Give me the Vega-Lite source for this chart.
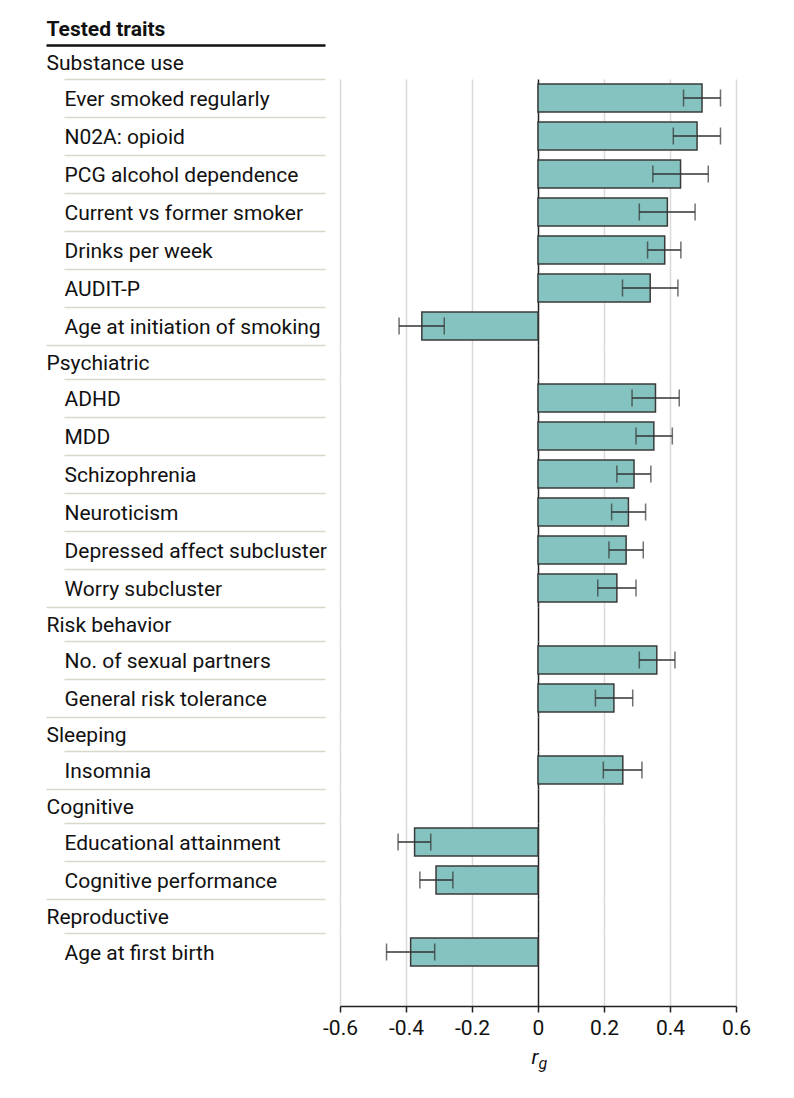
{
  "$schema": "https://vega.github.io/schema/vega-lite/v6.json",
  "padding": {"left": 44, "top": 11, "right": 5, "bottom": 5},
  "spacing": 0,
  "bounds": "flush",
  "resolve": {"scale": {"x": "independent", "y": "independent"}},
  "data": {"values": [
    {"trait": "Tested traits", "group": "Title", "kind": "title"},
    {"trait": "Substance use", "group": "Substance use", "kind": "group"},
    {"trait": "Ever smoked regularly", "group": "Substance use", "kind": "trait", "rg": 0.497, "lo": 0.441, "hi": 0.553},
    {"trait": "N02A: opioid", "group": "Substance use", "kind": "trait", "rg": 0.482, "lo": 0.410, "hi": 0.553},
    {"trait": "PCG alcohol dependence", "group": "Substance use", "kind": "trait", "rg": 0.432, "lo": 0.348, "hi": 0.516},
    {"trait": "Current vs former smoker", "group": "Substance use", "kind": "trait", "rg": 0.392, "lo": 0.307, "hi": 0.476},
    {"trait": "Drinks per week", "group": "Substance use", "kind": "trait", "rg": 0.384, "lo": 0.332, "hi": 0.433},
    {"trait": "AUDIT-P", "group": "Substance use", "kind": "trait", "rg": 0.340, "lo": 0.256, "hi": 0.424},
    {"trait": "Age at initiation of smoking", "group": "Substance use", "kind": "trait", "rg": -0.352, "lo": -0.421, "hi": -0.284},
    {"trait": "Psychiatric", "group": "Psychiatric", "kind": "group"},
    {"trait": "ADHD", "group": "Psychiatric", "kind": "trait", "rg": 0.356, "lo": 0.285, "hi": 0.428},
    {"trait": "MDD", "group": "Psychiatric", "kind": "trait", "rg": 0.351, "lo": 0.297, "hi": 0.407},
    {"trait": "Schizophrenia", "group": "Psychiatric", "kind": "trait", "rg": 0.291, "lo": 0.239, "hi": 0.342},
    {"trait": "Neuroticism", "group": "Psychiatric", "kind": "trait", "rg": 0.274, "lo": 0.223, "hi": 0.326},
    {"trait": "Depressed affect subcluster", "group": "Psychiatric", "kind": "trait", "rg": 0.267, "lo": 0.215, "hi": 0.319},
    {"trait": "Worry subcluster", "group": "Psychiatric", "kind": "trait", "rg": 0.239, "lo": 0.181, "hi": 0.297},
    {"trait": "Risk behavior", "group": "Risk behavior", "kind": "group"},
    {"trait": "No. of sexual partners", "group": "Risk behavior", "kind": "trait", "rg": 0.360, "lo": 0.307, "hi": 0.415},
    {"trait": "General risk tolerance", "group": "Risk behavior", "kind": "trait", "rg": 0.230, "lo": 0.174, "hi": 0.287},
    {"trait": "Sleeping", "group": "Sleeping", "kind": "group"},
    {"trait": "Insomnia", "group": "Sleeping", "kind": "trait", "rg": 0.257, "lo": 0.198, "hi": 0.315},
    {"trait": "Cognitive", "group": "Cognitive", "kind": "group"},
    {"trait": "Educational attainment", "group": "Cognitive", "kind": "trait", "rg": -0.374, "lo": -0.424, "hi": -0.325},
    {"trait": "Cognitive performance", "group": "Cognitive", "kind": "trait", "rg": -0.309, "lo": -0.358, "hi": -0.258},
    {"trait": "Reproductive", "group": "Reproductive", "kind": "group"},
    {"trait": "Age at first birth", "group": "Reproductive", "kind": "trait", "rg": -0.386, "lo": -0.459, "hi": -0.313}
  ]},
  "vconcat": [
    {
      "width": 396, "height": 68,
      "transform": [{"filter": "datum.kind === 'title' || datum.trait === 'Substance use'"}],
      "mark": {"type": "text", "text": ""},
      "encoding": {
        "y": {"field": "trait", "type": "nominal", "sort": null, "scale": {"type": "band", "paddingInner": 0, "paddingOuter": 0},
          "axis": {"orient": "left", "offset": 15, "domain": false, "grid": false, "title": null, "bandPosition": 0,
            "ticks": true, "tickSize": 279, "tickColor": "#111111", "tickWidth": 2.5,
            "tickOpacity": {"condition": {"test": "datum.value === 'Tested traits'", "value": 0}, "value": 1},
            "labelAlign": "left", "labelBaseline": "middle", "labelOffset": 2, "labelPadding": 0, "labelFontSize": 21,
            "labelFontWeight": {"condition": {"test": "datum.value === 'Tested traits'", "value": "bold"}, "value": "normal"},
            "labelColor": "#111111", "labelLimit": 400, "labelOverlap": false}}
      }
    },
    {
      "width": 396, "height": 266,
      "transform": [{"filter": "datum.kind === 'trait' && datum.group === 'Substance use'"}],
      "encoding": {
        "y": {"field": "trait", "type": "nominal", "sort": null, "scale": {"type": "band", "paddingInner": 0, "paddingOuter": 0},
          "axis": {"orient": "left", "offset": 15, "domain": false, "grid": false, "title": null, "bandPosition": 0,
            "ticks": true, "tickSize": 261, "tickColor": "#d7dacb", "tickWidth": 1.5,
            "labelAlign": "left", "labelBaseline": "middle", "labelOffset": 2, "labelPadding": 0, "labelFontSize": 21,
            "labelColor": "#111111", "labelLimit": 400, "labelOverlap": false}}
      },
      "layer": [
        {"mark": {"type": "bar", "size": 28, "fill": "#84c3bf", "stroke": "#3b3b3b", "strokeWidth": 1.5},
         "encoding": {"x": {"field": "rg", "type": "quantitative", "stack": null, "scale": {"domain": [-0.6, 0.6], "nice": false, "zero": false},
           "axis": {"grid": true, "gridColor": {"condition": {"test": "datum.value === 0", "value": "#222222"}, "value": "#d9d9d9"}, "gridWidth": 1.5,
             "values": [-0.6, -0.4, -0.2, 0, 0.2, 0.4, 0.6], "labels": false, "ticks": false, "domain": false, "title": null}}}},
        {"mark": {"type": "rule", "color": "#333333", "strokeWidth": 1.5},
         "encoding": {"x": {"field": "lo", "type": "quantitative", "title": null}, "x2": {"field": "hi"}}},
        {"mark": {"type": "tick", "color": "#333333", "size": 17, "thickness": 1.5},
         "encoding": {"x": {"field": "lo", "type": "quantitative", "title": null}}},
        {"mark": {"type": "tick", "color": "#333333", "size": 17, "thickness": 1.5},
         "encoding": {"x": {"field": "hi", "type": "quantitative", "title": null}}}
      ]
    },
    {
      "width": 396, "height": 34,
      "transform": [{"filter": "datum.kind === 'group' && datum.group === 'Psychiatric'"}],
      "mark": {"type": "text", "text": ""},
      "encoding": {
        "y": {"field": "trait", "type": "nominal", "sort": null, "scale": {"type": "band", "paddingInner": 0, "paddingOuter": 0},
          "axis": {"orient": "left", "offset": 15, "domain": false, "grid": false, "title": null, "bandPosition": 0,
            "ticks": true, "tickSize": 279, "tickColor": "#d7dacb", "tickWidth": 1.5,
            "labelAlign": "left", "labelBaseline": "middle", "labelOffset": 2, "labelPadding": 0, "labelFontSize": 21,
            "labelColor": "#111111", "labelLimit": 400, "labelOverlap": false}},
        "x": {"datum": 0, "type": "quantitative", "scale": {"domain": [-0.6, 0.6], "nice": false, "zero": false},
          "axis": {"grid": true, "gridColor": {"condition": {"test": "datum.value === 0", "value": "#222222"}, "value": "#d9d9d9"}, "gridWidth": 1.5,
            "values": [-0.6, -0.4, -0.2, 0, 0.2, 0.4, 0.6], "labels": false, "ticks": false, "domain": false, "title": null}}
      }
    },
    {
      "width": 396, "height": 228,
      "transform": [{"filter": "datum.kind === 'trait' && datum.group === 'Psychiatric'"}],
      "encoding": {
        "y": {"field": "trait", "type": "nominal", "sort": null, "scale": {"type": "band", "paddingInner": 0, "paddingOuter": 0},
          "axis": {"orient": "left", "offset": 15, "domain": false, "grid": false, "title": null, "bandPosition": 0,
            "ticks": true, "tickSize": 261, "tickColor": "#d7dacb", "tickWidth": 1.5,
            "labelAlign": "left", "labelBaseline": "middle", "labelOffset": 2, "labelPadding": 0, "labelFontSize": 21,
            "labelColor": "#111111", "labelLimit": 400, "labelOverlap": false}}
      },
      "layer": [
        {"mark": {"type": "bar", "size": 28, "fill": "#84c3bf", "stroke": "#3b3b3b", "strokeWidth": 1.5},
         "encoding": {"x": {"field": "rg", "type": "quantitative", "stack": null, "scale": {"domain": [-0.6, 0.6], "nice": false, "zero": false},
           "axis": {"grid": true, "gridColor": {"condition": {"test": "datum.value === 0", "value": "#222222"}, "value": "#d9d9d9"}, "gridWidth": 1.5,
             "values": [-0.6, -0.4, -0.2, 0, 0.2, 0.4, 0.6], "labels": false, "ticks": false, "domain": false, "title": null}}}},
        {"mark": {"type": "rule", "color": "#333333", "strokeWidth": 1.5},
         "encoding": {"x": {"field": "lo", "type": "quantitative", "title": null}, "x2": {"field": "hi"}}},
        {"mark": {"type": "tick", "color": "#333333", "size": 17, "thickness": 1.5},
         "encoding": {"x": {"field": "lo", "type": "quantitative", "title": null}}},
        {"mark": {"type": "tick", "color": "#333333", "size": 17, "thickness": 1.5},
         "encoding": {"x": {"field": "hi", "type": "quantitative", "title": null}}}
      ]
    },
    {
      "width": 396, "height": 34,
      "transform": [{"filter": "datum.kind === 'group' && datum.group === 'Risk behavior'"}],
      "mark": {"type": "text", "text": ""},
      "encoding": {
        "y": {"field": "trait", "type": "nominal", "sort": null, "scale": {"type": "band", "paddingInner": 0, "paddingOuter": 0},
          "axis": {"orient": "left", "offset": 15, "domain": false, "grid": false, "title": null, "bandPosition": 0,
            "ticks": true, "tickSize": 279, "tickColor": "#d7dacb", "tickWidth": 1.5,
            "labelAlign": "left", "labelBaseline": "middle", "labelOffset": 2, "labelPadding": 0, "labelFontSize": 21,
            "labelColor": "#111111", "labelLimit": 400, "labelOverlap": false}},
        "x": {"datum": 0, "type": "quantitative", "scale": {"domain": [-0.6, 0.6], "nice": false, "zero": false},
          "axis": {"grid": true, "gridColor": {"condition": {"test": "datum.value === 0", "value": "#222222"}, "value": "#d9d9d9"}, "gridWidth": 1.5,
            "values": [-0.6, -0.4, -0.2, 0, 0.2, 0.4, 0.6], "labels": false, "ticks": false, "domain": false, "title": null}}
      }
    },
    {
      "width": 396, "height": 76,
      "transform": [{"filter": "datum.kind === 'trait' && datum.group === 'Risk behavior'"}],
      "encoding": {
        "y": {"field": "trait", "type": "nominal", "sort": null, "scale": {"type": "band", "paddingInner": 0, "paddingOuter": 0},
          "axis": {"orient": "left", "offset": 15, "domain": false, "grid": false, "title": null, "bandPosition": 0,
            "ticks": true, "tickSize": 261, "tickColor": "#d7dacb", "tickWidth": 1.5,
            "labelAlign": "left", "labelBaseline": "middle", "labelOffset": 2, "labelPadding": 0, "labelFontSize": 21,
            "labelColor": "#111111", "labelLimit": 400, "labelOverlap": false}}
      },
      "layer": [
        {"mark": {"type": "bar", "size": 28, "fill": "#84c3bf", "stroke": "#3b3b3b", "strokeWidth": 1.5},
         "encoding": {"x": {"field": "rg", "type": "quantitative", "stack": null, "scale": {"domain": [-0.6, 0.6], "nice": false, "zero": false},
           "axis": {"grid": true, "gridColor": {"condition": {"test": "datum.value === 0", "value": "#222222"}, "value": "#d9d9d9"}, "gridWidth": 1.5,
             "values": [-0.6, -0.4, -0.2, 0, 0.2, 0.4, 0.6], "labels": false, "ticks": false, "domain": false, "title": null}}}},
        {"mark": {"type": "rule", "color": "#333333", "strokeWidth": 1.5},
         "encoding": {"x": {"field": "lo", "type": "quantitative", "title": null}, "x2": {"field": "hi"}}},
        {"mark": {"type": "tick", "color": "#333333", "size": 17, "thickness": 1.5},
         "encoding": {"x": {"field": "lo", "type": "quantitative", "title": null}}},
        {"mark": {"type": "tick", "color": "#333333", "size": 17, "thickness": 1.5},
         "encoding": {"x": {"field": "hi", "type": "quantitative", "title": null}}}
      ]
    },
    {
      "width": 396, "height": 34,
      "transform": [{"filter": "datum.kind === 'group' && datum.group === 'Sleeping'"}],
      "mark": {"type": "text", "text": ""},
      "encoding": {
        "y": {"field": "trait", "type": "nominal", "sort": null, "scale": {"type": "band", "paddingInner": 0, "paddingOuter": 0},
          "axis": {"orient": "left", "offset": 15, "domain": false, "grid": false, "title": null, "bandPosition": 0,
            "ticks": true, "tickSize": 279, "tickColor": "#d7dacb", "tickWidth": 1.5,
            "labelAlign": "left", "labelBaseline": "middle", "labelOffset": 2, "labelPadding": 0, "labelFontSize": 21,
            "labelColor": "#111111", "labelLimit": 400, "labelOverlap": false}},
        "x": {"datum": 0, "type": "quantitative", "scale": {"domain": [-0.6, 0.6], "nice": false, "zero": false},
          "axis": {"grid": true, "gridColor": {"condition": {"test": "datum.value === 0", "value": "#222222"}, "value": "#d9d9d9"}, "gridWidth": 1.5,
            "values": [-0.6, -0.4, -0.2, 0, 0.2, 0.4, 0.6], "labels": false, "ticks": false, "domain": false, "title": null}}
      }
    },
    {
      "width": 396, "height": 38,
      "transform": [{"filter": "datum.kind === 'trait' && datum.group === 'Sleeping'"}],
      "encoding": {
        "y": {"field": "trait", "type": "nominal", "sort": null, "scale": {"type": "band", "paddingInner": 0, "paddingOuter": 0},
          "axis": {"orient": "left", "offset": 15, "domain": false, "grid": false, "title": null, "bandPosition": 0,
            "ticks": true, "tickSize": 261, "tickColor": "#d7dacb", "tickWidth": 1.5,
            "labelAlign": "left", "labelBaseline": "middle", "labelOffset": 2, "labelPadding": 0, "labelFontSize": 21,
            "labelColor": "#111111", "labelLimit": 400, "labelOverlap": false}}
      },
      "layer": [
        {"mark": {"type": "bar", "size": 28, "fill": "#84c3bf", "stroke": "#3b3b3b", "strokeWidth": 1.5},
         "encoding": {"x": {"field": "rg", "type": "quantitative", "stack": null, "scale": {"domain": [-0.6, 0.6], "nice": false, "zero": false},
           "axis": {"grid": true, "gridColor": {"condition": {"test": "datum.value === 0", "value": "#222222"}, "value": "#d9d9d9"}, "gridWidth": 1.5,
             "values": [-0.6, -0.4, -0.2, 0, 0.2, 0.4, 0.6], "labels": false, "ticks": false, "domain": false, "title": null}}}},
        {"mark": {"type": "rule", "color": "#333333", "strokeWidth": 1.5},
         "encoding": {"x": {"field": "lo", "type": "quantitative", "title": null}, "x2": {"field": "hi"}}},
        {"mark": {"type": "tick", "color": "#333333", "size": 17, "thickness": 1.5},
         "encoding": {"x": {"field": "lo", "type": "quantitative", "title": null}}},
        {"mark": {"type": "tick", "color": "#333333", "size": 17, "thickness": 1.5},
         "encoding": {"x": {"field": "hi", "type": "quantitative", "title": null}}}
      ]
    },
    {
      "width": 396, "height": 34,
      "transform": [{"filter": "datum.kind === 'group' && datum.group === 'Cognitive'"}],
      "mark": {"type": "text", "text": ""},
      "encoding": {
        "y": {"field": "trait", "type": "nominal", "sort": null, "scale": {"type": "band", "paddingInner": 0, "paddingOuter": 0},
          "axis": {"orient": "left", "offset": 15, "domain": false, "grid": false, "title": null, "bandPosition": 0,
            "ticks": true, "tickSize": 279, "tickColor": "#d7dacb", "tickWidth": 1.5,
            "labelAlign": "left", "labelBaseline": "middle", "labelOffset": 2, "labelPadding": 0, "labelFontSize": 21,
            "labelColor": "#111111", "labelLimit": 400, "labelOverlap": false}},
        "x": {"datum": 0, "type": "quantitative", "scale": {"domain": [-0.6, 0.6], "nice": false, "zero": false},
          "axis": {"grid": true, "gridColor": {"condition": {"test": "datum.value === 0", "value": "#222222"}, "value": "#d9d9d9"}, "gridWidth": 1.5,
            "values": [-0.6, -0.4, -0.2, 0, 0.2, 0.4, 0.6], "labels": false, "ticks": false, "domain": false, "title": null}}
      }
    },
    {
      "width": 396, "height": 76,
      "transform": [{"filter": "datum.kind === 'trait' && datum.group === 'Cognitive'"}],
      "encoding": {
        "y": {"field": "trait", "type": "nominal", "sort": null, "scale": {"type": "band", "paddingInner": 0, "paddingOuter": 0},
          "axis": {"orient": "left", "offset": 15, "domain": false, "grid": false, "title": null, "bandPosition": 0,
            "ticks": true, "tickSize": 261, "tickColor": "#d7dacb", "tickWidth": 1.5,
            "labelAlign": "left", "labelBaseline": "middle", "labelOffset": 2, "labelPadding": 0, "labelFontSize": 21,
            "labelColor": "#111111", "labelLimit": 400, "labelOverlap": false}}
      },
      "layer": [
        {"mark": {"type": "bar", "size": 28, "fill": "#84c3bf", "stroke": "#3b3b3b", "strokeWidth": 1.5},
         "encoding": {"x": {"field": "rg", "type": "quantitative", "stack": null, "scale": {"domain": [-0.6, 0.6], "nice": false, "zero": false},
           "axis": {"grid": true, "gridColor": {"condition": {"test": "datum.value === 0", "value": "#222222"}, "value": "#d9d9d9"}, "gridWidth": 1.5,
             "values": [-0.6, -0.4, -0.2, 0, 0.2, 0.4, 0.6], "labels": false, "ticks": false, "domain": false, "title": null}}}},
        {"mark": {"type": "rule", "color": "#333333", "strokeWidth": 1.5},
         "encoding": {"x": {"field": "lo", "type": "quantitative", "title": null}, "x2": {"field": "hi"}}},
        {"mark": {"type": "tick", "color": "#333333", "size": 17, "thickness": 1.5},
         "encoding": {"x": {"field": "lo", "type": "quantitative", "title": null}}},
        {"mark": {"type": "tick", "color": "#333333", "size": 17, "thickness": 1.5},
         "encoding": {"x": {"field": "hi", "type": "quantitative", "title": null}}}
      ]
    },
    {
      "width": 396, "height": 34,
      "transform": [{"filter": "datum.kind === 'group' && datum.group === 'Reproductive'"}],
      "mark": {"type": "text", "text": ""},
      "encoding": {
        "y": {"field": "trait", "type": "nominal", "sort": null, "scale": {"type": "band", "paddingInner": 0, "paddingOuter": 0},
          "axis": {"orient": "left", "offset": 15, "domain": false, "grid": false, "title": null, "bandPosition": 0,
            "ticks": true, "tickSize": 279, "tickColor": "#d7dacb", "tickWidth": 1.5,
            "labelAlign": "left", "labelBaseline": "middle", "labelOffset": 2, "labelPadding": 0, "labelFontSize": 21,
            "labelColor": "#111111", "labelLimit": 400, "labelOverlap": false}},
        "x": {"datum": 0, "type": "quantitative", "scale": {"domain": [-0.6, 0.6], "nice": false, "zero": false},
          "axis": {"grid": true, "gridColor": {"condition": {"test": "datum.value === 0", "value": "#222222"}, "value": "#d9d9d9"}, "gridWidth": 1.5,
            "values": [-0.6, -0.4, -0.2, 0, 0.2, 0.4, 0.6], "labels": false, "ticks": false, "domain": false, "title": null}}
      }
    },
    {
      "width": 396, "height": 73,
      "transform": [{"filter": "datum.kind === 'trait' && datum.group === 'Reproductive'"}],
      "resolve": {"axis": {"x": "independent"}},
      "encoding": {
        "y": {"field": "trait", "type": "nominal", "sort": null, "scale": {"type": "band", "paddingInner": 0, "paddingOuter": 0.4605, "align": 0},
          "axis": {"orient": "left", "offset": 15, "domain": false, "grid": false, "title": null, "bandPosition": 0,
            "ticks": true, "tickSize": 261, "tickColor": "#d7dacb", "tickWidth": 1.5,
            "labelAlign": "left", "labelBaseline": "middle", "labelOffset": 2, "labelPadding": 0, "labelFontSize": 21,
            "labelColor": "#111111", "labelLimit": 400, "labelOverlap": false}}
      },
      "layer": [
        {"mark": {"type": "bar", "size": 28, "fill": "#84c3bf", "stroke": "#3b3b3b", "strokeWidth": 1.5},
         "encoding": {"x": {"field": "rg", "type": "quantitative", "stack": null, "scale": {"domain": [-0.6, 0.6], "nice": false, "zero": false},
           "axis": {"orient": "bottom", "grid": true, "gridColor": {"condition": {"test": "datum.value === 0", "value": "#222222"}, "value": "#d9d9d9"}, "gridWidth": 1.5,
             "values": [-0.6, -0.4, -0.2, 0, 0.2, 0.4, 0.6], "format": ".1~f", "labels": true, "ticks": true, "tickColor": "#222222", "tickSize": 6, "tickWidth": 1.5,
             "domain": true, "domainColor": "#222222", "domainWidth": 1.5,
             "labelFontSize": 21, "labelColor": "#111111", "labelPadding": 5, "labelFlush": false,
             "labelExpr": "replace(datum.label, '\u2212', '-')",
             "title": "r", "titleAlign": "right", "titleFontSize": 21, "titleFontStyle": "italic", "titleFontWeight": "normal",
             "titleColor": "#111111", "titlePadding": 8}}}},
        {"mark": {"type": "rule", "color": "#333333", "strokeWidth": 1.5},
         "encoding": {"x": {"field": "lo", "type": "quantitative",
           "axis": {"orient": "bottom", "grid": false, "labels": false, "ticks": false, "domain": false,
             "title": "g", "titleAlign": "left", "titleFontSize": 16, "titleFontStyle": "italic", "titleFontWeight": "normal",
             "titleColor": "#111111", "titlePadding": 49}}, "x2": {"field": "hi"}}},
        {"mark": {"type": "tick", "color": "#333333", "size": 17, "thickness": 1.5},
         "encoding": {"x": {"field": "lo", "type": "quantitative", "axis": null}}},
        {"mark": {"type": "tick", "color": "#333333", "size": 17, "thickness": 1.5},
         "encoding": {"x": {"field": "hi", "type": "quantitative", "axis": null}}}
      ]
    }
  ],
  "config": {
    "view": {"stroke": null},
    "font": "Roboto",
    "axis": {"labelFont": "Roboto", "titleFont": "Roboto"}
  }
}
